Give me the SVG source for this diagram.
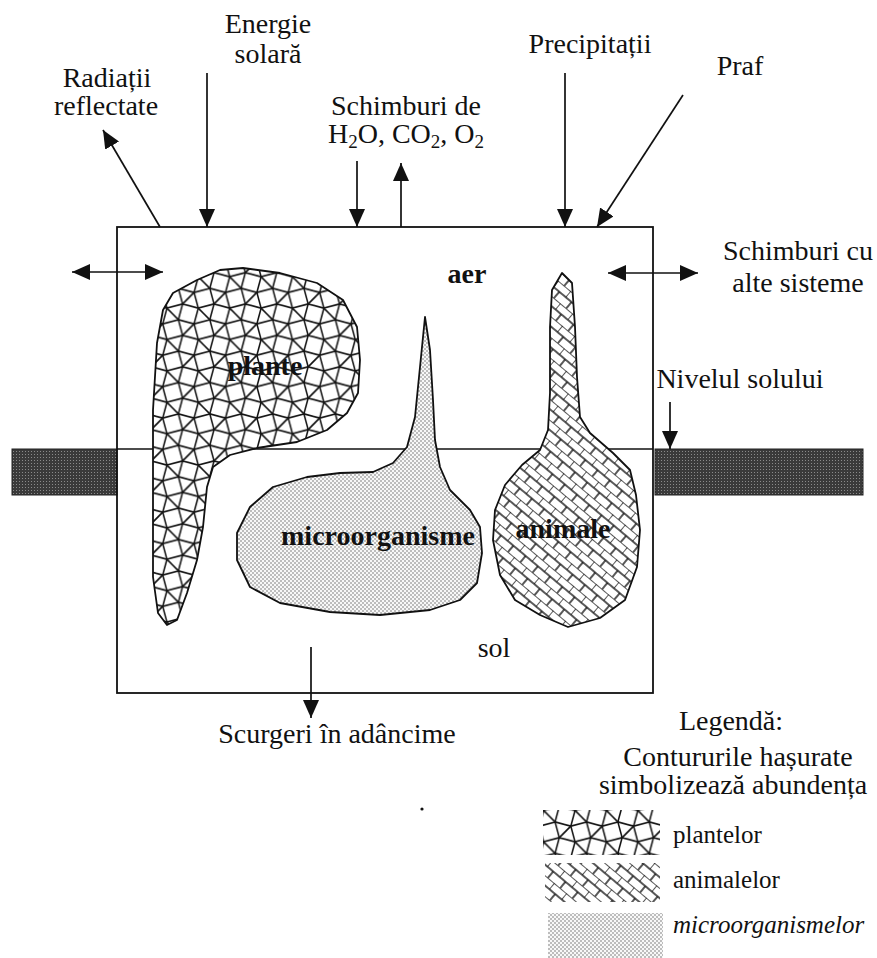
<svg xmlns="http://www.w3.org/2000/svg" width="877" height="958" viewBox="0 0 877 958">
<style>
text{font-family:"Liberation Serif","Times New Roman",serif;fill:#111;}
.t{font-size:28px;}
.b{font-size:28px;font-weight:bold;}
.lg{font-size:25px;}
.conn{stroke:#111;stroke-width:1.7;fill:none;}
.shape{stroke:#111;stroke-width:1.8;stroke-linejoin:round;}
</style>
<defs>
<marker id="ah" viewBox="0 0 18 16" refX="18" refY="8" markerWidth="18" markerHeight="16" markerUnits="userSpaceOnUse" orient="auto-start-reverse">
<path d="M0,0 L18,8 L0,16 z" fill="#111"/>
</marker>
<pattern id="pPlant" patternUnits="userSpaceOnUse" width="25.114" height="25.114" patternTransform="scale(1.25)">
<rect x="-1" y="-1" width="27.114" height="27.114" fill="#fff"/>
<g stroke="#111" stroke-width="1.25" fill="none">
<polygon points="4.596,7.961 -7.961,4.596 -4.596,-7.961 7.961,-4.596"/>
<polygon points="29.71,7.961 17.153,4.596 20.518,-7.961 33.075,-4.596"/>
<polygon points="4.596,33.075 -7.961,29.71 -4.596,17.153 7.961,20.518"/>
<polygon points="29.71,33.075 17.153,29.71 20.518,17.153 33.075,20.518"/>
<polygon points="20.518,17.153 7.961,20.518 4.596,7.961 17.153,4.596"/>
<line x1="4.596" y1="7.961" x2="-4.596" y2="17.153"/>
<line x1="29.71" y1="7.961" x2="20.518" y2="17.153"/>
<line x1="7.961" y1="-4.596" x2="17.153" y2="4.596"/>
<line x1="7.961" y1="20.518" x2="17.153" y2="29.71"/>
</g>
</pattern>
<pattern id="pAnimal" patternUnits="userSpaceOnUse" width="16" height="16" patternTransform="rotate(40)">
<rect width="16" height="16" fill="#fff"/>
<g stroke="#111" stroke-width="1.4">
<line x1="0" y1="0" x2="16" y2="0"/>
<line x1="0" y1="8" x2="16" y2="8"/>
<line x1="0" y1="0" x2="0" y2="8"/>
<line x1="8" y1="8" x2="8" y2="16"/>
</g>
</pattern>
<pattern id="pMicro" patternUnits="userSpaceOnUse" width="4" height="4">
<rect width="4" height="4" fill="#f8f8f8"/>
<circle cx="1" cy="1" r="0.75" fill="#666"/>
<circle cx="3" cy="3" r="0.75" fill="#666"/>
</pattern>
<pattern id="pSoil" patternUnits="userSpaceOnUse" width="3" height="3">
<rect width="3" height="3" fill="#3a3a3a"/>
<rect x="1" y="1" width="1" height="1" fill="#8a8a8a"/>
</pattern>
</defs>
<rect width="877" height="958" fill="#fff"/>

<g id="ground">
<rect x="12" y="449" width="105" height="46" fill="url(#pSoil)" stroke="#222" stroke-width="1"/>
<rect x="655" y="449" width="208" height="46" fill="url(#pSoil)" stroke="#222" stroke-width="1"/>
<line x1="117" y1="449" x2="653" y2="449" stroke="#111" stroke-width="1.6"/>
</g>

<g id="system-box">
<rect x="117" y="227" width="536" height="466" fill="none" stroke="#111" stroke-width="1.8"/>
</g>

<g id="plante">
<polygon class="shape" fill="url(#pPlant)" points="173,293 197,280 220,270 243,268 280,273 317,283 343,300 357,327 360,360 358,393 347,413 327,430 297,442 257,448 230,455 213,467 207,487 203,527 197,560 187,593 177,620 167,625 158,613 153,577 153,493 153,410 157,343 163,310"/>
<text class="b" x="265" y="375" text-anchor="middle">plante</text>
</g>

<g id="microorganisme">
<polygon class="shape" fill="url(#pMicro)" points="425,317 430,350 433,400 435,440 440,467 450,490 470,510 480,527 482,553 477,583 460,600 430,610 380,615 330,612 280,603 250,587 237,560 237,533 250,507 273,487 307,477 340,473 373,472 393,463 407,447 415,417 420,367"/>
<text class="b" x="378" y="545" text-anchor="middle">microorganisme</text>
</g>

<g id="animale">
<polygon class="shape" fill="url(#pAnimal)" points="562,273 572,283 575,327 577,377 580,417 590,433 613,453 630,470 636,495 640,530 637,567 625,600 600,618 568,627 540,615 515,600 500,575 493,540 495,510 505,485 522,465 540,450 548,430 550,393 550,327 552,290"/>
<text class="b" x="563" y="538" text-anchor="middle">animale</text>
</g>

<g id="connectors">
<line class="conn" x1="160" y1="227" x2="103" y2="130" marker-end="url(#ah)"/>
<line class="conn" x1="207" y1="73" x2="207" y2="227" marker-end="url(#ah)"/>
<line class="conn" x1="357" y1="161" x2="357" y2="227" marker-end="url(#ah)"/>
<line class="conn" x1="401" y1="227" x2="401" y2="163" marker-end="url(#ah)"/>
<line class="conn" x1="565" y1="73" x2="565" y2="227" marker-end="url(#ah)"/>
<line class="conn" x1="683" y1="95" x2="597" y2="227" marker-end="url(#ah)"/>
<line class="conn" x1="72" y1="272" x2="163" y2="272" marker-start="url(#ah)" marker-end="url(#ah)"/>
<line class="conn" x1="608" y1="273" x2="698" y2="273" marker-start="url(#ah)" marker-end="url(#ah)"/>
<line class="conn" x1="670" y1="402" x2="670" y2="449" marker-end="url(#ah)"/>
<line class="conn" x1="311" y1="647" x2="311" y2="718" marker-end="url(#ah)"/>
</g>

<g id="labels">
<text class="t" x="268" y="33" text-anchor="middle">Energie</text>
<text class="t" x="268" y="63" text-anchor="middle">solară</text>
<text class="t" x="107" y="87" text-anchor="middle" font-size="26">Radiații</text>
<text class="t" x="106" y="115" text-anchor="middle" font-size="27">reflectate</text>
<text class="t" x="406" y="115" text-anchor="middle">Schimburi de</text>
<text class="t" x="406" y="143" text-anchor="middle">H<tspan font-size="19" dy="5">2</tspan><tspan dy="-5">O, CO</tspan><tspan font-size="19" dy="5">2</tspan><tspan dy="-5">, O</tspan><tspan font-size="19" dy="5">2</tspan></text>
<text class="t" x="590" y="53" text-anchor="middle">Precipitații</text>
<text class="t" x="740" y="75" text-anchor="middle">Praf</text>
<text class="t" x="798" y="260" text-anchor="middle">Schimburi cu</text>
<text class="t" x="798" y="292" text-anchor="middle">alte sisteme</text>
<text class="t" x="740" y="388" text-anchor="middle">Nivelul solului</text>
<text class="b" x="467" y="283" text-anchor="middle">aer</text>
<text class="t" x="494" y="657" text-anchor="middle">sol</text>
<text class="t" x="337" y="743" text-anchor="middle">Scurgeri în adâncime</text>
<circle cx="422" cy="809" r="1.6" fill="#111"/>
</g>

<g id="legend">
<text class="t" x="731" y="730" text-anchor="middle" font-size="29">Legendă:</text>
<text class="t" x="738" y="766" text-anchor="middle" font-size="26">Contururile hașurate</text>
<text class="t" x="733" y="794" text-anchor="middle" font-size="27">simbolizează abundența</text>
<rect x="543" y="810" width="117" height="45" fill="url(#pPlant)"/>
<rect x="545" y="863" width="115" height="39" fill="url(#pAnimal)"/>
<rect x="548" y="913" width="115" height="45" fill="url(#pMicro)"/>
<text class="lg" x="673" y="843">plantelor</text>
<text class="lg" x="673" y="888">animalelor</text>
<text class="lg" x="673" y="933" font-style="italic">microorganismelor</text>
</g>
</svg>
